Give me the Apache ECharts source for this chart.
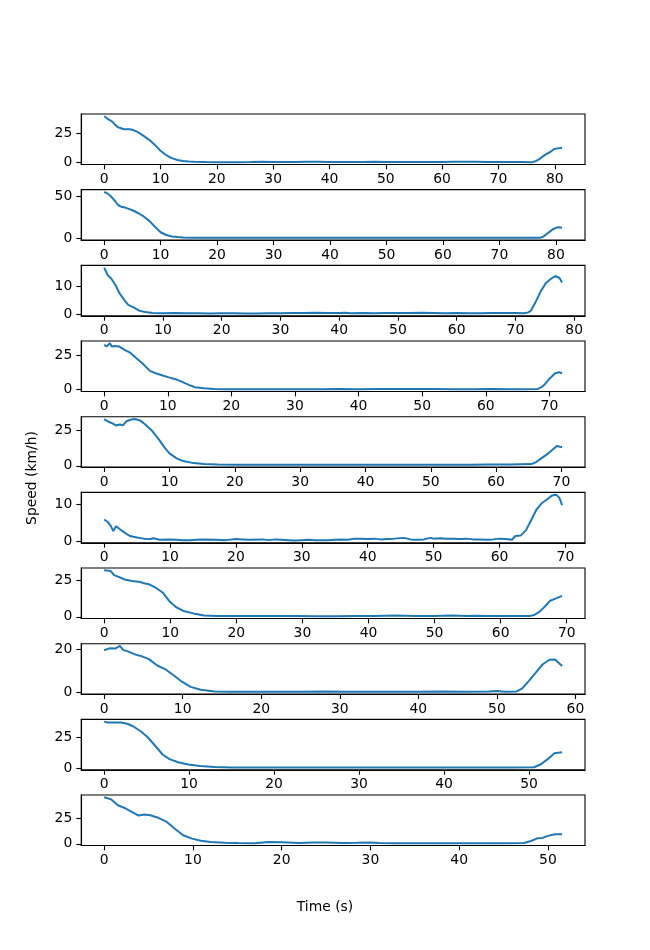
<!DOCTYPE html>
<html>
<head>
<meta charset="utf-8">
<script src="https://cdn.jsdelivr.net/npm/echarts@6.0.0/dist/echarts.min.js"></script>
<style>
html, body { margin: 0; padding: 0; background: #fff; }
#main { width: 650px; height: 950px; }
</style>
</head>
<body>
<div id="main"></div>
<script>
// each run: [time (s), speed (km/h)]
var run1 = [[0,39.5],[0.5,37.8],[1,36.3],[1.5,34.8],[2,32],[2.5,30],[3,29.3],[3.5,28.4],[4,28.3],[4.5,28.3],[5,28],[5.5,27],[6,25.9],[7,22.7],[8,19.3],[9,15],[10,10],[11,6.3],[12,3.7],[13,2],[14,1.1],[15,0.7],[16,0.5],
    [18,0.3],[20,0.2],[22,0.2],[24,0.2],[26,0.3],[28,0.5],[30,0.4],[32,0.4],[34,0.4],[36,0.5],[38,0.6],[40,0.4],[42,0.3],[44,0.3],[46,0.4],[48,0.5],[50,0.4],[52,0.4],[54,0.3],[56,0.4],[58,0.4],[60,0.4],[62,0.5],[64,0.6],[66,0.5],[68,0.4],[70,0.4],[72,0.4],[74,0.3],[76,0.2],
    [76.6,1],[77.2,2.6],[77.8,4.9],[78.4,6.9],[79.2,8.9],[79.9,11.5],[80.5,12],[81.3,12.6]]
var run2 = [[0,55.5],[0.5,54],[1,51.5],[1.5,48],[2,44],[2.5,39.5],[3,37.8],[3.5,37],[4,36],[5,33.5],[6,30.2],[7,26],[8,20.7],[9,13.6],[10,7],[11,3.7],[12,2],[13,1.2],[14,0.7],[16,0.4],
    [18,0.3],[20,0.3],[22,0.3],[24,0.3],[26,0.3],[28,0.4],[30,0.4],[32,0.4],[34,0.4],[36,0.5],[38,0.5],[40,0.5],[42,0.5],[44,0.5],[46,0.4],[48,0.5],[50,0.5],[52,0.4],[54,0.4],[56,0.4],[58,0.4],[60,0.4],[62,0.4],[64,0.4],[66,0.4],[68,0.4],[70,0.4],[72,0.3],[74,0.3],[76,0.3],
    [77.2,0.5],[77.6,1.2],[78.1,3.3],[78.7,6.6],[79.4,10.3],[80.2,12.8],[80.6,13],[81.1,12.4]]
var run3 = [[0,16.7],[0.3,15.4],[0.6,14],[1.2,12.8],[1.9,10.6],[2.6,7.6],[3.4,5.2],[4.1,3.4],[5,2.5],[5.9,1.4],[7,0.8],[8.2,0.5],[10,0.4],[12,0.5],[14,0.4],[16,0.4],[18,0.3],[20,0.4],[22,0.4],[24,0.3],[26,0.3],[28,0.4],[30,0.4],[32,0.5],[34,0.5],[36,0.6],[38,0.5],[40,0.5],[41,0.6],[42,0.4],[44,0.5],[46,0.4],[48,0.5],[50,0.5],[52,0.5],[54,0.6],[56,0.5],[58,0.4],[60,0.5],[62,0.4],[64,0.4],[66,0.5],[68,0.5],[70,0.5],[71.4,0.4],
    [72.2,0.7],[72.6,1.2],[73.4,4.2],[74.3,8.2],[75.2,11.2],[76.1,12.8],[76.8,13.7],[77.5,13],[77.95,11.4]]
var run4 = [[0,32.5],[0.4,31.5],[0.9,33.7],[1.2,31.3],[1.6,31.8],[2.4,31.3],[3.2,28.9],[4.1,26.9],[4.9,23.5],[6,19.2],[7.2,13.6],[8.1,11.9],[9.2,10.2],[10.3,8.7],[11.4,7.3],[12.2,5.8],[13.3,3.4],[14.3,1.7],[15.7,1],[17.3,0.5],
    [19,0.3],[22,0.3],[25,0.3],[28,0.3],[31,0.3],[34,0.3],[37,0.4],[40,0.3],[43,0.4],[46,0.4],[49,0.5],[52,0.4],[55,0.3],[58,0.3],[61,0.4],[64,0.3],[66,0.3],
    [68.2,0.5],[68.8,1.9],[69.3,3.9],[70.1,8.3],[70.9,11.9],[71.5,12.6],[72,11.9]]
var run5 = [[0,32.5],[0.5,31],[1.05,30],[1.8,28.1],[2.4,28.8],[2.9,28.3],[3.4,31],[4.2,32.2],[4.7,32.6],[5.5,31.6],[6.3,28.8],[7.4,24],[8.4,18.2],[9.2,13],[10,8.7],[11.1,5.2],[12.1,3.3],[13.7,1.9],[15.3,1.2],[17.4,0.9],
    [20,0.8],[23,0.8],[26,0.7],[29,0.7],[32,0.8],[35,0.7],[38,0.7],[41,0.7],[44,0.8],[47,0.8],[50,0.7],[53,0.7],[56,0.8],[59,0.9],[62,1],
    [65.4,1.2],[66.2,2.8],[66.9,5.2],[68,8.7],[69.3,13.8],[70.1,13]]
var run6 = [[0,5.9],[0.5,5.3],[1,4.2],[1.4,2.8],[1.8,4.1],[2.4,3.3],[3.1,2.4],[3.9,1.5],[5,1.1],[6,0.8],[7,0.7],[7.5,0.9],[8.4,0.5],[10,0.6],[11,0.5],[12,0.4],[13,0.4],[14,0.5],[15,0.6],[17,0.5],[18.5,0.4],[20,0.7],[21,0.6],[22,0.5],[24,0.6],[25,0.4],[26,0.6],[27,0.5],[28,0.4],[29,0.3],[30,0.4],[31,0.5],[32,0.4],[34,0.4],[35,0.5],[36,0.6],[37,0.5],[38,0.8],[39,0.8],[40,0.7],[41,0.8],[42,0.6],[43,0.7],[44,0.8],[45.5,1],[46.5,0.6],[47.5,0.5],[48.5,0.6],[49.5,1],[50,0.8],[51,0.9],[52,0.8],[53,0.8],[54,0.7],[55,0.8],[56,0.6],[57,0.6],[58,0.5],[59,0.6],[60,0.8],[61,0.7],[61.9,0.5],
    [62.4,1.5],[63.2,1.6],[64,3],[64.8,5.7],[65.6,8.5],[66.4,10.2],[67.2,11.2],[68,12.3],[68.6,12.5],[69.1,11.6],[69.5,9.7]]
var run7 = [[0,31.8],[1,31.3],[1.5,28.5],[2.1,27.5],[3.1,25.5],[4.2,24.5],[5.5,23.8],[6,22.9],[6.8,22.2],[7.8,19.9],[8.9,16.4],[9.9,10.5],[10.9,6.5],[12,4],[13.5,2.3],[15.1,0.9],
    [17,0.5],[20,0.5],[23,0.5],[26,0.6],[29,0.5],[32,0.4],[35,0.4],[38,0.5],[41,0.5],[44,0.8],[47,0.6],[50,0.6],[52.5,0.8],[55,0.5],[56,0.7],[58,0.5],[61,0.6],[63,0.5],[64.5,0.6],
    [65.1,1.2],[65.9,3.5],[66.7,7],[67.5,11],[68.3,12.4],[69.3,14.3]]
var run8 = [[0,19.6],[0.66,20.5],[0.9,21],[1.4,20.4],[2,21.6],[2.4,19.8],[3.1,19],[4,17.6],[4.8,16.8],[5.7,15.5],[6.8,12.4],[7.7,11],[8.8,8.1],[9.9,5],[11,2.6],[12.3,1.3],[14.1,0.5],
    [16,0.3],[19,0.3],[22,0.4],[25,0.3],[28,0.5],[31,0.4],[34,0.4],[37,0.3],[40,0.4],[43,0.5],[46,0.4],[49,0.5],[50,0.7],[51,0.4],[52.5,0.5],
    [53.2,1.8],[54.1,5.5],[54.9,9],[55.8,13],[56.7,15.2],[57.4,15.3],[58.3,12.3]]
var run9 = [[0,37.3],[0.4,36.6],[1.2,36.6],[2,36.6],[2.8,35.4],[3.4,33.6],[4.3,29.6],[5.1,25],[5.9,18.8],[6.9,10.8],[7.7,7.3],[8.7,4.8],[9.9,3],[11.3,1.9],[13,1.1],
    [15,0.7],[18,0.6],[21,0.6],[24,0.6],[27,0.6],[30,0.6],[33,0.6],[36,0.6],[39,0.6],[42,0.6],[45,0.6],[48,0.6],
    [50.6,0.8],[51.4,3.2],[52.2,7.3],[53,12],[53.9,12.9]]
var run10 = [[0,45],[0.8,43],[1.55,37.3],[2.3,34.7],[3.1,31],[3.9,27.3],[4.5,28.3],[5.2,27.7],[6,25.5],[7,21.5],[7.9,15],[8.9,8.3],[9.9,5],[10.9,3],[12,1.7],[13.6,1],
    [15,0.7],[17,0.6],[18.5,1.7],[20,1.4],[22,0.8],[23.5,1.3],[25,1.2],[27,0.8],[28.5,1],[30,1.3],[31,0.8],[33,0.6],[36,0.6],[39,0.6],[42,0.6],[45,0.6],
    [47.3,0.8],[48.1,2.7],[48.8,5.3],[49.4,5.7],[50,7.7],[50.8,9.3],[51.6,9.3]]

var runs = [run1, run2, run3, run4, run5, run6, run7, run8, run9, run10]

// tick labels
var xTicks80 = [0,10,20,30,40,50,60,70,80]
var xTicks70 = [0,10,20,30,40,50,60,70]
var xTicks60 = [0,10,20,30,40,50,60]
var xTicks50 = [0,10,20,30,40,50]
var xTickSets = [xTicks80, xTicks80, xTicks80, xTicks70, xTicks70, xTicks70, xTicks70, xTicks60, xTicks50, xTicks50]
var yTickSets = [[0,25],[0,50],[0,10],[0,25],[0,25],[0,10],[0,25],[0,20],[0,25],[0,25]]

var chart = echarts.init(document.getElementById('main'))
var grids = [], xAxes = [], yAxes = [], series = []
var font = 'DejaVu Sans'

runs.forEach(function (run, i) {
    var tmax = run[run.length - 1][0]
    var vmin = Infinity, vmax = -Infinity
    run.forEach(function (p) {
        if (p[1] < vmin) vmin = p[1]
        if (p[1] > vmax) vmax = p[1]
    })
    var r = vmax - vmin
    grids.push({
        left: 81.25, width: 503.75,
        top: 114 + i * 75.67, height: 50.45,
        show: true, borderColor: '#000', borderWidth: 1.1
    })
    xAxes.push({
        type: 'value', gridIndex: i,
        min: -0.05 * tmax, max: 1.05 * tmax,
        splitLine: { show: false },
        axisLine: { show: true, onZero: false, lineStyle: { color: '#000', width: 1.1 } },
        axisTick: { show: true, customValues: xTickSets[i], length: 4.9, lineStyle: { color: '#000', width: 1.1 } },
        axisLabel: { customValues: xTickSets[i], color: '#000', fontSize: 13.9, fontFamily: font, margin: 8 }
    })
    yAxes.push({
        type: 'value', gridIndex: i,
        min: vmin - 0.05 * r, max: vmax + 0.05 * r,
        splitLine: { show: false },
        axisLine: { show: true, onZero: false, lineStyle: { color: '#000', width: 1.1 } },
        axisTick: { show: true, customValues: yTickSets[i], length: 4.9, lineStyle: { color: '#000', width: 1.1 } },
        axisLabel: { customValues: yTickSets[i], color: '#000', fontSize: 13.9, fontFamily: font, margin: 9 }
    })
    series.push({
        type: 'line', xAxisIndex: i, yAxisIndex: i,
        data: run, showSymbol: false, animation: false,
        lineStyle: { color: '#1f77b4', width: 2 }
    })
})

var option = {
    animation: false,
    grid: grids,
    xAxis: xAxes,
    yAxis: yAxes,
    series: series,
    graphic: [
        { type: 'text', left: 'center', top: 900,
          style: { text: 'Time (s)', font: '13.9px "DejaVu Sans"', fill: '#000' } },
        { type: 'text', x: 32, y: 478, rotation: Math.PI / 2,
          style: { text: 'Speed (km/h)', font: '13.9px "DejaVu Sans"', fill: '#000', align: 'center', verticalAlign: 'middle' } }
    ]
}

chart.setOption(option)
</script>
</body>
</html>
